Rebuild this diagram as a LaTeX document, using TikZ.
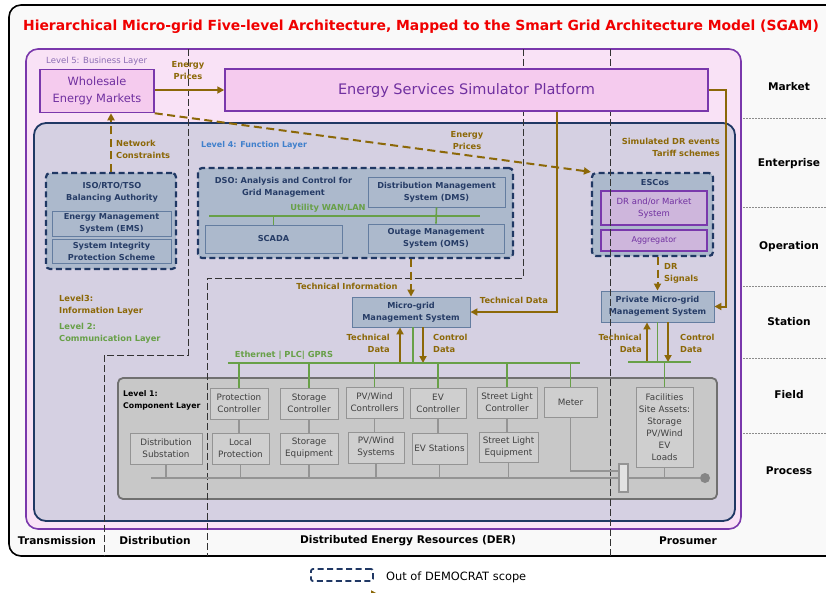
\documentclass[tikz,border=0pt]{standalone}
\usepackage{fontspec}
\setmainfont{DejaVu Sans}
\usetikzlibrary{arrows.meta}

\definecolor{titlered}{RGB}{240,0,0}
\definecolor{framebg}{RGB}{249,249,249}
\definecolor{flowc}{RGB}{140,104,8}
\definecolor{navy}{RGB}{32,56,100}
\definecolor{navyfill}{RGB}{172,185,204}
\definecolor{navytext}{RGB}{38,60,102}
\definecolor{boxline}{RGB}{100,125,160}
\definecolor{lavbg}{RGB}{213,208,226}
\definecolor{purp}{RGB}{122,56,172}
\definecolor{pinkbg}{RGB}{249,226,246}
\definecolor{pinkbox}{RGB}{245,203,238}
\definecolor{purptext}{RGB}{112,48,160}
\definecolor{lvlfive}{RGB}{140,110,180}
\definecolor{escofill}{RGB}{206,182,220}
\definecolor{netgreen}{RGB}{104,160,72}
\definecolor{fnblue}{RGB}{64,128,204}
\definecolor{compfill}{RGB}{200,200,200}
\definecolor{compline}{RGB}{112,112,112}
\definecolor{devfill}{RGB}{207,207,207}
\definecolor{devline}{RGB}{148,148,148}
\definecolor{devtext}{RGB}{64,64,64}

\newcommand{\lblfont}{\fontsize{8.3}{12}\selectfont\bfseries}
\newcommand{\boxfont}{\fontsize{8.2}{12}\selectfont\bfseries}
\newcommand{\devfont}{\fontsize{8.8}{12}\selectfont}
\newcommand{\zonefont}{\fontsize{10.6}{12}\selectfont\bfseries}

\tikzset{
  >={Triangle[length=7pt,width=7pt]},
  wh/.style 2 args={minimum width=#1pt, minimum height=#2pt},
  bizbox/.style={draw=purp, line width=1.5pt, fill=pinkbox, text=purptext, align=center, inner sep=1pt},
  funcgroup/.style={draw=navy, line width=2.2pt, dash pattern=on 6pt off 3.5pt, rounded corners=4pt, fill=navyfill},
  funcbox/.style={draw=boxline, line width=0.9pt, fill=navyfill, text=navytext, font=\boxfont, align=center, inner sep=1pt},
  escobox/.style={draw=purp, line width=1.6pt, fill=escofill, text=purptext, align=center, inner sep=1pt},
  devbox/.style={draw=devline, line width=1pt, fill=devfill, text=devtext, font=\devfont, align=center, inner sep=1pt},
  flow/.style={draw=flowc, line width=2pt},
  flowdash/.style={flow, dash pattern=on 8pt off 4.5pt},
  flowlbl/.style={text=flowc, font=\lblfont, align=center, inner sep=0pt},
  net/.style={draw=netgreen, line width=1.6pt},
  wire/.style={draw=devline, line width=1.5pt},
  scopeline/.style={draw=black!80, line width=0.8pt, dash pattern=on 7pt off 3pt},
  zone/.style={font=\zonefont, inner sep=0pt},
  sgamline/.style={draw=black!45, line width=0.6pt, dash pattern=on 1.5pt off 1.5pt},
}

\begin{document}
\begin{tikzpicture}[x=1pt,y=-1pt]
  \useasboundingbox (0,0) rectangle (826,592);

  % frame, title and the two layer containers
  \draw[line width=1.6pt, rounded corners=12pt, fill=framebg] (9,5) rectangle (850,556);
  \node[font=\fontsize{13.9}{15}\selectfont\bfseries, text=titlered, inner sep=0pt] (Title) at (421,27)
    {Hierarchical Micro-grid Five-level Architecture, Mapped to the Smart Grid Architecture Model (SGAM)};
  \draw[draw=purp, line width=1.6pt, rounded corners=12pt, fill=pinkbg] (26,49) rectangle (741,529);
  \draw[draw=navy, line width=1.8pt, rounded corners=12pt, fill=lavbg] (34,123) rectangle (735,521);

  % SGAM zones
  \foreach \y in {118,207,286,358,433}
    \draw[sgamline] (743,\y) -- (826,\y);
  \node[zone] (Market) at (789,87) {Market};
  \node[zone] (Enterprise) at (789,164) {Enterprise};
  \node[zone] (Operation) at (789,247) {Operation};
  \node[zone] (Station) at (789,322) {Station};
  \node[zone] (Field) at (789,395) {Field};
  \node[zone] (Process) at (789,471) {Process};

  \node[zone] (Transmission) at (57,541) {Transmission};
  \node[zone] (Distribution) at (155,541) {Distribution};
  \node[zone] (DER) at (408,541) {Distributed Energy Resources (DER)};
  \node[zone] (Prosumer) at (688,541) {Prosumer};

  % level 1
  \node[draw=compline, line width=1.8pt, rounded corners=5pt, fill=compfill, wh={599}{121}] (CompLayer) at (417.5,438.5) {};
  \node[anchor=west, align=left, inner sep=0pt, font=\fontsize{7.8}{12}\selectfont\bfseries] (L1) at (123,400) {Level 1:\\Component Layer};

  \node[devbox, wh={58}{31}] (ProtCtrl) at (239,403.5) {Protection\\Controller};
  \node[devbox, wh={58}{31}] (StorCtrl) at (309,403.5) {Storage\\Controller};
  \node[devbox, wh={57}{31}] (PVCtrl) at (374.5,402.5) {PV/Wind\\Controllers};
  \node[devbox, wh={56}{30}] (EVCtrl) at (438,403) {EV\\Controller};
  \node[devbox, wh={60}{31}] (SLCtrl) at (507,402.5) {Street Light\\Controller};
  \node[devbox, wh={53}{30}] (Meter) at (570.5,402) {Meter};

  \node[devbox, wh={72}{31}] (DistSub) at (166,448.5) {Distribution\\Substation};
  \node[devbox, wh={57}{31}] (LocProt) at (240.5,448.5) {Local\\Protection};
  \node[devbox, wh={58}{31}] (StorEq) at (309,448.5) {Storage\\Equipment};
  \node[devbox, wh={56}{31}] (PVSys) at (376,447.5) {PV/Wind\\Systems};
  \node[devbox, wh={55}{31}] (EVSt) at (439.5,448.5) {EV Stations};
  \node[devbox, wh={59}{30}] (SLEq) at (508.5,447) {Street Light\\Equipment};
  \node[devbox, wh={57}{80}] (Fac) at (664.5,427) {Facilities\\Site Assets:\\Storage\\PV/Wind\\EV\\Loads};

  \node[draw=devline, line width=1.8pt, fill=devfill!60!white, wh={9}{28}, inner sep=0pt] (Brk) at (623.5,478) {};
  \node[circle, fill=devline!90!black, minimum size=10pt, inner sep=0pt] (Gnd) at (705,478) {};
  \coordinate (ProcL) at (151,478);

  % levels 2 and 3
  \node[anchor=west, align=left, inner sep=0pt, text=flowc, font=\lblfont] (L3) at (59,305) {Level3:\\Information Layer};
  \node[anchor=west, align=left, inner sep=0pt, text=netgreen, font=\lblfont] (L2) at (59,333) {Level 2:\\Communication Layer};

  \coordinate (EthL) at (228,363);
  \coordinate (EthR) at (580,363);
  \coordinate (PBusL) at (628,362);
  \coordinate (PBusR) at (691,362);
  \node[text=netgreen, font=\lblfont, inner sep=0pt] (Eth) at (284,355) {Ethernet | PLC| GPRS};

  \node[funcbox, wh={118}{30}] (MGMS) at (411,312) {Micro-grid\\Management System};
  \node[funcbox, wh={113}{31}] (PMGMS) at (657.5,306.5) {Private Micro-grid\\Management System};

  % level 4
  \node[anchor=west, inner sep=0pt, text=fnblue, font=\fontsize{8}{10}\selectfont\bfseries] (L4) at (201,145) {Level 4: Function Layer};

  \node[funcgroup, wh={130}{96}] (ISO) at (111,221) {};
  \node[text=navytext, font=\boxfont, align=center, inner sep=0pt] (ISOTitle) at (112,192) {ISO/RTO/TSO\\Balancing Authority};
  \node[funcbox, wh={119}{25}] (EMS) at (111.5,223.5) {Energy Management\\System (EMS)};
  \node[funcbox, wh={119}{24}] (SIPS) at (111.5,251) {System Integrity\\Protection Scheme};

  \node[funcgroup, wh={315}{90}] (DSO) at (355.5,213) {};
  \node[text=navytext, font=\boxfont, align=center, inner sep=0pt] (DSOTitle) at (283.5,187.5) {DSO: Analysis and Control for\\Grid Management};
  \node[funcbox, wh={137}{30}] (DMS) at (436.5,192) {Distribution Management\\System (DMS)};
  \node[funcbox, wh={137}{28}] (SCADA) at (273.5,239) {SCADA};
  \node[funcbox, wh={136}{29}] (OMS) at (436,238.5) {Outage Management\\System (OMS)};
  \coordinate (WanL) at (209,216);
  \coordinate (WanR) at (480,216);
  \node[text=netgreen, font=\lblfont, inner sep=0pt] (Wan) at (328,208) {Utility WAN/LAN};

  \node[funcgroup, wh={121}{83}] (ESCos) at (652.5,214.5) {};
  \node[text=navytext, font=\boxfont, inner sep=0pt] (ESCosTitle) at (655,183) {ESCos};
  \node[escobox, wh={106}{34}, font=\fontsize{8.5}{12}\selectfont] (DRMS) at (654,208) {DR and/or Market\\System};
  \node[escobox, wh={106}{21}, font=\fontsize{8}{10}\selectfont] (Aggr) at (654,240.5) {Aggregator};

  % level 5
  \node[anchor=west, inner sep=0pt, text=lvlfive, font=\fontsize{8.5}{10}\selectfont] (L5) at (46,61) {Level 5: Business Layer};
  \node[bizbox, wh={114}{43}, font=\fontsize{11.4}{17}\selectfont] (Wholesale) at (97,91) {Wholesale\\Energy Markets};

  % domain boundaries
  \draw[scopeline] (188,49) -- (188,355) -- (104,355) -- (104,556);
  \draw[scopeline] (523,49) -- (523,278) -- (207,278) -- (207,556);
  \draw[scopeline] (610,49) -- (610,556);

  \node[bizbox, wh={483}{42}, font=\fontsize{14.5}{17}\selectfont] (Platform) at (466.5,90) {Energy Services Simulator Platform};

  % information flows
  \draw[flow,->] (Wholesale.east |- Platform.west) -- (Platform.west);
  \node[flowlbl] (Prices) at (188,71) {Energy\\Prices};
  \draw[flowdash,->] (Wholesale.south east) -- (ESCos.north west);
  \node[flowlbl] (DerPrices) at (467,141) {Energy\\Prices};
  \draw[flowdash,->] (ISO.north) -- (ISO.north |- Wholesale.south);
  \node[flowlbl, anchor=west, align=left] (NetCons) at (116,149) {Network\\Constraints};
  \draw[flowdash,->] (DSO.south -| MGMS.north) -- (MGMS.north);
  \node[flowlbl] (TechInfo) at (347,286) {Technical Information};
  \draw[flow,->] ([xshift=90.5pt]Platform.south) |- (MGMS.east);
  \node[flowlbl] (TechData) at (514,300) {Technical Data};
  \draw[flow,->] (Platform.east) -- ++(17,0) |- (PMGMS.east);
  \node[flowlbl, anchor=east, align=right] (Tariff) at (720,147) {Simulated DR events\\Tariff schemes};
  \draw[flowdash,->] (ESCos.south -| PMGMS.north) -- (PMGMS.north);
  \node[flowlbl, anchor=west, align=left] (DRSig) at (664,273.5) {DR\\Signals};

  \draw[flow,<-] ([xshift=-11pt]MGMS.south) -- ([xshift=-11pt]MGMS.south |- EthL);
  \draw[flow,->] ([xshift=12pt]MGMS.south) -- ([xshift=12pt]MGMS.south |- EthL);
  \node[flowlbl, anchor=east, align=right] (MGTech) at (390,343) {Technical\\Data};
  \node[flowlbl, anchor=west, align=left] (MGCtrl) at (433,343) {Control\\Data};
  \draw[flow,<-] ([xshift=-10.5pt]PMGMS.south) -- ([xshift=-10.5pt]PMGMS.south |- PBusL);
  \draw[flow,->] ([xshift=10.5pt]PMGMS.south) -- ([xshift=10.5pt]PMGMS.south |- PBusL);
  \node[flowlbl, anchor=east, align=right] (PMGTech) at (642,343) {Technical\\Data};
  \node[flowlbl, anchor=west, align=left] (PMGCtrl) at (680,343) {Control\\Data};

  % communication
  \draw[net] (WanL) -- (WanR);
  \draw[net] (SCADA.north |- WanL) -- (SCADA.north);
  \draw[net] (DMS.south) -- (OMS.north);
  \draw[net] (EthL) -- (EthR);
  \draw[net] (PBusL) -- (PBusR);
  \draw[net] ([xshift=2pt]MGMS.south) -- ([xshift=2pt]MGMS.south |- EthL);
  \draw[net] (PMGMS.south) -- (PMGMS.south |- PBusL);
  \foreach \n in {ProtCtrl,StorCtrl,PVCtrl,EVCtrl,SLCtrl,Meter}
    \draw[net] (\n.north |- EthL) -- (\n.north);
  \draw[net] (Fac.north |- PBusL) -- (Fac.north);

  % components
  \foreach \a/\b in {ProtCtrl/LocProt,StorCtrl/StorEq,PVCtrl/PVSys,EVCtrl/EVSt,SLCtrl/SLEq}
    \draw[wire] (\a.south) -- (\a.south |- \b.north);
  \foreach \n in {DistSub,LocProt,StorEq,PVSys,EVSt,SLEq}
    \draw[wire] (\n.south) -- (\n.south |- ProcL);
  \draw[wire] (ProcL) -- (Brk.west);
  \draw[wire] (Meter.south) |- ([yshift=7pt]Brk.west);
  \draw[wire] (Brk.east) -- (Gnd.west);
  \draw[wire] (Fac.south) -- (Fac.south |- Brk.east);

  % legend
  \node[funcgroup, fill=none, line width=1.8pt, rounded corners=2pt, wh={62}{12}] (Legend) at (342,575) {};
  \node[anchor=west, inner sep=0pt, font=\fontsize{11.4}{13}\selectfont] (LegendTxt) at (386,577) {Out of DEMOCRAT scope};
  \coordinate (LegA) at (311,594);
  \coordinate (LegB) at (378,594);
  \draw[flowdash,->] (LegA) -- (LegB);
\end{tikzpicture}
\end{document}
